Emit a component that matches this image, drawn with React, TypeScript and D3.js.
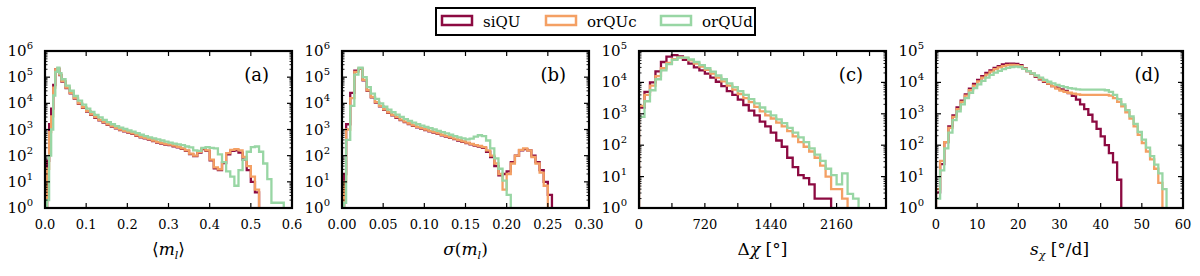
import * as React from 'react';
import {useEffect, useRef} from 'react';
import * as d3 from 'd3';

// series order: siQU, orQUc, orQUd
const seriesNames = ['siQU', 'orQUc', 'orQUd'];
const seriesColors = ['#8c0a41', '#f4a064', '#98d6a4'];

// all counts below are log10(bin count), null = empty bin

// panel (a) <m_l>
const aEdges = [0.005, 0.01, 0.015, 0.02, 0.025, 0.03, 0.035, 0.04,
  0.05, 0.06, 0.07, 0.08, 0.09, 0.10, 0.11, 0.12, 0.13, 0.14,
  0.15, 0.16, 0.17, 0.18, 0.19, 0.20, 0.21, 0.22, 0.23, 0.24,
  0.25, 0.26, 0.27, 0.28, 0.29, 0.30, 0.31, 0.32, 0.33, 0.34,
  0.35, 0.36, 0.37, 0.38, 0.39, 0.40, 0.41, 0.42, 0.43, 0.44,
  0.45, 0.46, 0.47, 0.48, 0.49, 0.50, 0.51, 0.52, 0.53, 0.54,
  0.55, 0.56, 0.57, 0.58];
const aSiQU = [1.8, 3.2, 3.8, 4.7, 5.3, 5.32, 5.08, 4.83,
  4.58, 4.38, 4.18, 3.98, 3.83, 3.68, 3.56, 3.45, 3.35, 3.26,
  3.18, 3.11, 3.04, 2.98, 2.93, 2.88, 2.83, 2.76, 2.7, 2.66,
  2.61, 2.56, 2.5, 2.46, 2.42, 2.4, 2.36, 2.32, 2.26, 2.18,
  2.06, 1.98, 2.12, 2.25, 2.18, 1.82, 1.52, 1.45, 1.72, 2.05,
  2.18, 2.2, 2.12, 1.85, 1.45, 1.0, 0.6, null, null, null,
  null, null, null];
const aOrQUc = [1.5, 2.9, 3.5, 4.6, 5.3, 5.33, 5.1, 4.85,
  4.6, 4.4, 4.2, 4.0, 3.85, 3.7, 3.58, 3.47, 3.37, 3.28,
  3.2, 3.13, 3.06, 3.0, 2.95, 2.9, 2.85, 2.78, 2.72, 2.68,
  2.63, 2.58, 2.52, 2.48, 2.44, 2.42, 2.38, 2.34, 2.28, 2.2,
  2.08, 2.0, 2.15, 2.28, 2.2, 1.85, 1.55, 1.48, 1.75, 2.1,
  2.22, 2.25, 2.2, 1.95, 1.6, 1.2, 0.7, null, null, null,
  null, null, null];
const aOrQUd = [0.3, 2.0, 3.0, 4.3, 5.2, 5.36, 5.15, 4.92,
  4.68, 4.48, 4.28, 4.1, 3.95, 3.8, 3.67, 3.56, 3.46, 3.37,
  3.28, 3.2, 3.13, 3.07, 3.02, 2.97, 2.92, 2.86, 2.8, 2.75,
  2.7, 2.66, 2.62, 2.58, 2.54, 2.5, 2.46, 2.43, 2.4, 2.35,
  2.32, 2.2, 2.18, 2.3, 2.33, 2.3, 2.28, 2.05, 1.75, 1.4,
  1.2, 0.85, 1.45, 1.85, 2.15, 2.33, 2.35, 2.15, 1.7, 1.1,
  0.2, 0.2, 0.2];
const aTicks = [0, 0.1, 0.2, 0.3, 0.4, 0.5, 0.6];
const aTickLabels = ['0.0', '0.1', '0.2', '0.3', '0.4', '0.5', '0.6'];

// panel (b) sigma(m_l)
const bEdges = [0.0025, 0.005, 0.010, 0.015, 0.020, 0.025, 0.030, 0.035, 0.040, 0.045,
  0.050, 0.055, 0.060, 0.065, 0.070, 0.075, 0.080, 0.085, 0.090, 0.095,
  0.100, 0.105, 0.110, 0.115, 0.120, 0.125, 0.130, 0.135, 0.140, 0.145,
  0.150, 0.155, 0.160, 0.165, 0.170, 0.175, 0.180, 0.185, 0.190, 0.195,
  0.200, 0.205, 0.210, 0.215, 0.220, 0.225, 0.230, 0.235, 0.240, 0.245,
  0.250, 0.255];
const bSiQU = [1.3, 3.2, 4.4, 5.25, 5.32, 4.88, 4.48, 4.23, 4.03, 3.88,
  3.75, 3.64, 3.54, 3.45, 3.36, 3.28, 3.21, 3.14, 3.08, 3.03,
  2.98, 2.93, 2.88, 2.83, 2.78, 2.73, 2.68, 2.63, 2.58, 2.53,
  2.48, 2.43, 2.38, 2.35, 2.3, 2.15, 1.95, 1.6, 1.25, 1.3,
  1.4, 1.75, 2.0, 2.2, 2.25, 2.2, 2.0, 1.75, 1.45, 1.0,
  0.5];
const bOrQUc = [1.0, 3.0, 4.2, 5.2, 5.33, 4.9, 4.5, 4.25, 4.05, 3.9,
  3.77, 3.66, 3.56, 3.47, 3.38, 3.3, 3.23, 3.16, 3.1, 3.05,
  3.0, 2.95, 2.9, 2.85, 2.8, 2.75, 2.7, 2.65, 2.6, 2.55,
  2.5, 2.45, 2.4, 2.37, 2.33, 2.2, 2.0, 1.7, 1.3, 0.7,
  1.3, 1.7, 2.0, 2.22, 2.28, 2.2, 1.95, 1.7, 1.35, 0.85,
  null];
const bOrQUd = [0.2, 2.6, 3.9, 5.1, 5.36, 5.0, 4.62, 4.37, 4.17, 4.0,
  3.87, 3.76, 3.66, 3.57, 3.48, 3.4, 3.33, 3.26, 3.2, 3.15,
  3.1, 3.05, 3.0, 2.95, 2.9, 2.85, 2.8, 2.75, 2.7, 2.66,
  2.62, 2.65, 2.73, 2.78, 2.75, 2.58, 2.28, 1.9, 1.5, 1.05,
  0.5, null, null, null, null, null, null, null, null, null,
  null];
const bTicks = [0, 0.05, 0.10, 0.15, 0.20, 0.25, 0.30];
const bTickLabels = ['0.00', '0.05', '0.10', '0.15', '0.20', '0.25', '0.30'];

// panel (c) delta chi
const cEdges = [0, 60, 120, 180, 240, 300, 360, 420, 480, 540,
  600, 660, 720, 780, 840, 900, 960, 1020, 1080, 1140,
  1200, 1260, 1320, 1380, 1440, 1500, 1560, 1620, 1680, 1740,
  1800, 1860, 1920, 1980, 2040, 2100, 2160, 2220, 2280, 2340,
  2400];
const cSiQU = [3.2, 3.7, 4.0, 4.35, 4.65, 4.82, 4.87, 4.83, 4.72, 4.6,
  4.48, 4.38, 4.28, 4.15, 4.02, 3.88, 3.72, 3.6, 3.45, 3.28,
  3.1, 2.95, 2.75, 2.6, 2.4, 2.15, 1.95, 1.6, 1.3, 1.05,
  0.95, 0.75, 0.3, 0.3, 0.3, null, null, null, null, null];
const cOrQUc = [3.25, 3.6, 3.9, 4.2, 4.45, 4.62, 4.74, 4.8, 4.78, 4.7,
  4.6, 4.5, 4.4, 4.28, 4.15, 4.03, 3.9, 3.77, 3.63, 3.5,
  3.37, 3.22, 3.08, 2.95, 2.85, 2.72, 2.6, 2.45, 2.28, 2.1,
  1.95, 1.8, 1.6, 1.35, 1.0, 0.6, 0.6, 0.3, null, null];
const cOrQUd = [2.9, 3.4, 3.75, 4.1, 4.38, 4.58, 4.72, 4.79, 4.79, 4.73,
  4.65, 4.55, 4.45, 4.34, 4.22, 4.1, 3.97, 3.85, 3.72, 3.6,
  3.47, 3.33, 3.2, 3.07, 2.95, 2.82, 2.7, 2.55, 2.4, 2.25,
  2.1, 1.9, 1.7, 1.5, 1.25, 1.05, 0.75, 1.1, 0.45, 0.3];
const cTicks = [0, 360, 720, 1080, 1440, 1800, 2160, 2520];
const cTickLabels = ['0', '', '720', '', '1440', '', '2160', ''];

// panel (d) s_chi
const dEdges = [0, 1, 2, 3, 4, 5, 6, 7, 8, 9,
  10, 11, 12, 13, 14, 15, 16, 17, 18, 19,
  20, 21, 22, 23, 24, 25, 26, 27, 28, 29,
  30, 31, 32, 33, 34, 35, 36, 37, 38, 39,
  40, 41, 42, 43, 44, 45, 46, 47, 48, 49,
  50, 51, 52, 53, 54, 55, 56];
const dSiQU = [0.5, 1.4, 2.1, 2.6, 2.95, 3.2, 3.42, 3.62, 3.8, 3.95,
  4.08, 4.2, 4.3, 4.38, 4.46, 4.52, 4.57, 4.6, 4.6, 4.59,
  4.55, 4.45, 4.36, 4.27, 4.18, 4.1, 4.02, 3.95, 3.88, 3.83,
  3.78, 3.73, 3.66, 3.57, 3.45, 3.3, 3.15, 2.97, 2.75, 2.52,
  2.28, 2.0, 1.75, 1.45, 0.9, null, null, null, null, null,
  null, null, null, null, null, null];
const dOrQUc = [0.6, 1.5, 2.1, 2.55, 2.9, 3.15, 3.38, 3.58, 3.75, 3.9,
  4.03, 4.15, 4.25, 4.34, 4.42, 4.48, 4.52, 4.55, 4.56, 4.55,
  4.52, 4.44, 4.36, 4.28, 4.2, 4.12, 4.04, 3.96, 3.88, 3.8,
  3.74, 3.7, 3.67, 3.64, 3.62, 3.6, 3.6, 3.6, 3.6, 3.6,
  3.6, 3.6, 3.58, 3.5, 3.38, 3.24, 3.05, 2.85, 2.6, 2.33,
  2.07, 1.8, 1.55, 1.25, 0.8, null];
const dOrQUd = [0.3, 1.2, 1.9, 2.4, 2.8, 3.08, 3.3, 3.5, 3.67, 3.82,
  3.94, 4.05, 4.15, 4.24, 4.31, 4.37, 4.42, 4.46, 4.49, 4.5,
  4.49, 4.43, 4.36, 4.29, 4.22, 4.15, 4.08, 4.02, 3.97, 3.92,
  3.88, 3.85, 3.82, 3.8, 3.78, 3.77, 3.77, 3.77, 3.77, 3.77,
  3.77, 3.75, 3.7, 3.6, 3.47, 3.3, 3.12, 2.92, 2.68, 2.42,
  2.18, 1.92, 1.65, 1.38, 1.1, 0.6];
const dTicks = [0, 10, 20, 30, 40, 50, 60];
const dTickLabels = ['0', '10', '20', '30', '40', '50', '60'];

const panels = [
  {edges: aEdges, series: [aSiQU, aOrQUc, aOrQUd], xDomain: [0, 0.6], ticks: aTicks, tickLabels: aTickLabels, yExp: 6, tag: '(a)'},
  {edges: bEdges, series: [bSiQU, bOrQUc, bOrQUd], xDomain: [0, 0.3], ticks: bTicks, tickLabels: bTickLabels, yExp: 6, tag: '(b)'},
  {edges: cEdges, series: [cSiQU, cOrQUc, cOrQUd], xDomain: [0, 2700], ticks: cTicks, tickLabels: cTickLabels, yExp: 5, tag: '(c)'},
  {edges: dEdges, series: [dSiQU, dOrQUc, dOrQUd], xDomain: [0, 60], ticks: dTicks, tickLabels: dTickLabels, yExp: 5, tag: '(d)'},
];

const serif = 'DejaVu Serif';
const panelLefts = [45, 342, 639, 936];
const panelW = 247;
const top = 51;
const bottom = 208;

const App = () => {
  const chartRef = useRef(null);

  useEffect(() => {
    const svg = d3.select(chartRef.current);
    svg.selectAll('*').remove();

    svg.append('rect').attr('width', 1200).attr('height', 276).attr('fill', 'white');

    panels.forEach((p, pi) => {
      const left = panelLefts[pi];
      const right = left + panelW;
      const x = d3.scaleLinear().domain(p.xDomain).range([left, right]);
      const y = d3.scaleLog().domain([1, Math.pow(10, p.yExp)]).range([bottom, top]);
      const g = svg.append('g');

      const clipId = 'clip' + pi;
      g.append('clipPath').attr('id', clipId)
        .append('rect')
        .attr('x', left).attr('y', top)
        .attr('width', panelW).attr('height', bottom - top);

      const floor = 0.01;
      const line = d3.line()
        .x(d => x(d[0]))
        .y(d => y(d[1]))
        .curve(d3.curveStepAfter);

      p.series.forEach((vals, si) => {
        const n = vals.length;
        const pts = [[p.edges[0], floor]];
        vals.forEach((v, i) => pts.push([p.edges[i], v == null ? floor : Math.pow(10, v)]));
        const last = vals[n - 1];
        pts.push([p.edges[n], last == null ? floor : Math.pow(10, last)]);
        pts.push([p.edges[n], floor]);
        g.append('path')
          .attr('d', line(pts))
          .attr('fill', 'none')
          .attr('stroke', seriesColors[si])
          .attr('stroke-width', 2.3)
          .attr('clip-path', `url(#${clipId})`);
      });

      // log ticks on left and right
      for (let k = 0; k <= p.yExp; k++) {
        const yy = y(Math.pow(10, k));
        if (k > 0 && k < p.yExp) {
          g.append('line').attr('x1', left).attr('x2', left + 5).attr('y1', yy).attr('y2', yy)
            .attr('stroke', 'black').attr('stroke-width', 1.2);
          g.append('line').attr('x1', right).attr('x2', right - 5).attr('y1', yy).attr('y2', yy)
            .attr('stroke', 'black').attr('stroke-width', 1.2);
        }
        const t = g.append('text')
          .attr('x', left - 12)
          .attr('y', yy + 5)
          .attr('text-anchor', 'end')
          .attr('font-family', serif)
          .attr('font-size', 15)
          .text('10');
        t.append('tspan').attr('dy', -7).attr('font-size', 10).text(String(k));
        if (k < p.yExp) {
          for (let m = 2; m <= 9; m++) {
            const ym = y(m * Math.pow(10, k));
            g.append('line').attr('x1', left).attr('x2', left + 2.5).attr('y1', ym).attr('y2', ym)
              .attr('stroke', 'black').attr('stroke-width', 0.9);
            g.append('line').attr('x1', right).attr('x2', right - 2.5).attr('y1', ym).attr('y2', ym)
              .attr('stroke', 'black').attr('stroke-width', 0.9);
          }
        }
      }

      // x ticks on top and bottom
      p.ticks.forEach((tv, ti) => {
        const xx = x(tv);
        if (xx > left + 1 && xx < right - 1) {
          g.append('line').attr('x1', xx).attr('x2', xx).attr('y1', bottom).attr('y2', bottom - 5)
            .attr('stroke', 'black').attr('stroke-width', 1.2);
          g.append('line').attr('x1', xx).attr('x2', xx).attr('y1', top).attr('y2', top + 5)
            .attr('stroke', 'black').attr('stroke-width', 1.2);
        }
        if (p.tickLabels[ti]) {
          g.append('text')
            .attr('x', xx)
            .attr('y', bottom + 21)
            .attr('text-anchor', 'middle')
            .attr('font-family', serif)
            .attr('font-size', 13)
            .text(p.tickLabels[ti]);
        }
      });

      g.append('rect')
        .attr('x', left).attr('y', top)
        .attr('width', panelW).attr('height', bottom - top)
        .attr('fill', 'none').attr('stroke', 'black').attr('stroke-width', 2.2);

      g.append('text')
        .attr('x', right - 23)
        .attr('y', 81)
        .attr('text-anchor', 'end')
        .attr('font-family', serif)
        .attr('font-size', 18)
        .text(p.tag);

      // axis titles
      const cx = (left + right) / 2;
      const title = g.append('text')
        .attr('x', cx)
        .attr('y', 255)
        .attr('text-anchor', 'middle')
        .attr('font-family', serif)
        .attr('font-size', 17);
      if (pi === 0) {
        title.append('tspan').text('\u27e8');
        title.append('tspan').attr('font-style', 'italic').text('m');
        title.append('tspan').attr('font-style', 'italic').attr('font-size', 11).attr('dy', 4).text('l');
        title.append('tspan').attr('dy', -4).text('\u27e9');
      } else if (pi === 1) {
        title.append('tspan').attr('font-style', 'italic').text('\u03c3');
        title.append('tspan').text('(');
        title.append('tspan').attr('font-style', 'italic').text('m');
        title.append('tspan').attr('font-style', 'italic').attr('font-size', 11).attr('dy', 4).text('l');
        title.append('tspan').attr('dy', -4).text(')');
      } else if (pi === 2) {
        title.append('tspan').text('\u0394');
        title.append('tspan').attr('font-style', 'italic').text('\u03c7');
        title.append('tspan').text(' [\u00b0]');
      } else {
        title.append('tspan').attr('font-style', 'italic').text('s');
        title.append('tspan').attr('font-style', 'italic').attr('font-size', 11).attr('dy', 4).text('\u03c7');
        title.append('tspan').attr('dy', -4).text('  [\u00b0/d]');
      }
    });

    // legend
    const legend = svg.append('g');
    legend.append('rect')
      .attr('x', 436).attr('y', 8)
      .attr('width', 319).attr('height', 27)
      .attr('fill', 'white').attr('stroke', 'black').attr('stroke-width', 2);
    const legendX = [442, 546, 661];
    seriesNames.forEach((name, i) => {
      legend.append('rect')
        .attr('x', legendX[i]).attr('y', 16)
        .attr('width', 30).attr('height', 9)
        .attr('fill', 'white').attr('stroke', seriesColors[i]).attr('stroke-width', 2.5);
      legend.append('text')
        .attr('x', legendX[i] + 41)
        .attr('y', 27)
        .attr('font-family', serif)
        .attr('font-size', 15)
        .text(name);
    });
  }, []);

  return (
    <svg ref={chartRef} width={1200} height={276}
      style={{position: 'absolute', left: 0, top: 0, display: 'block'}}></svg>
  );
};

export default App;
